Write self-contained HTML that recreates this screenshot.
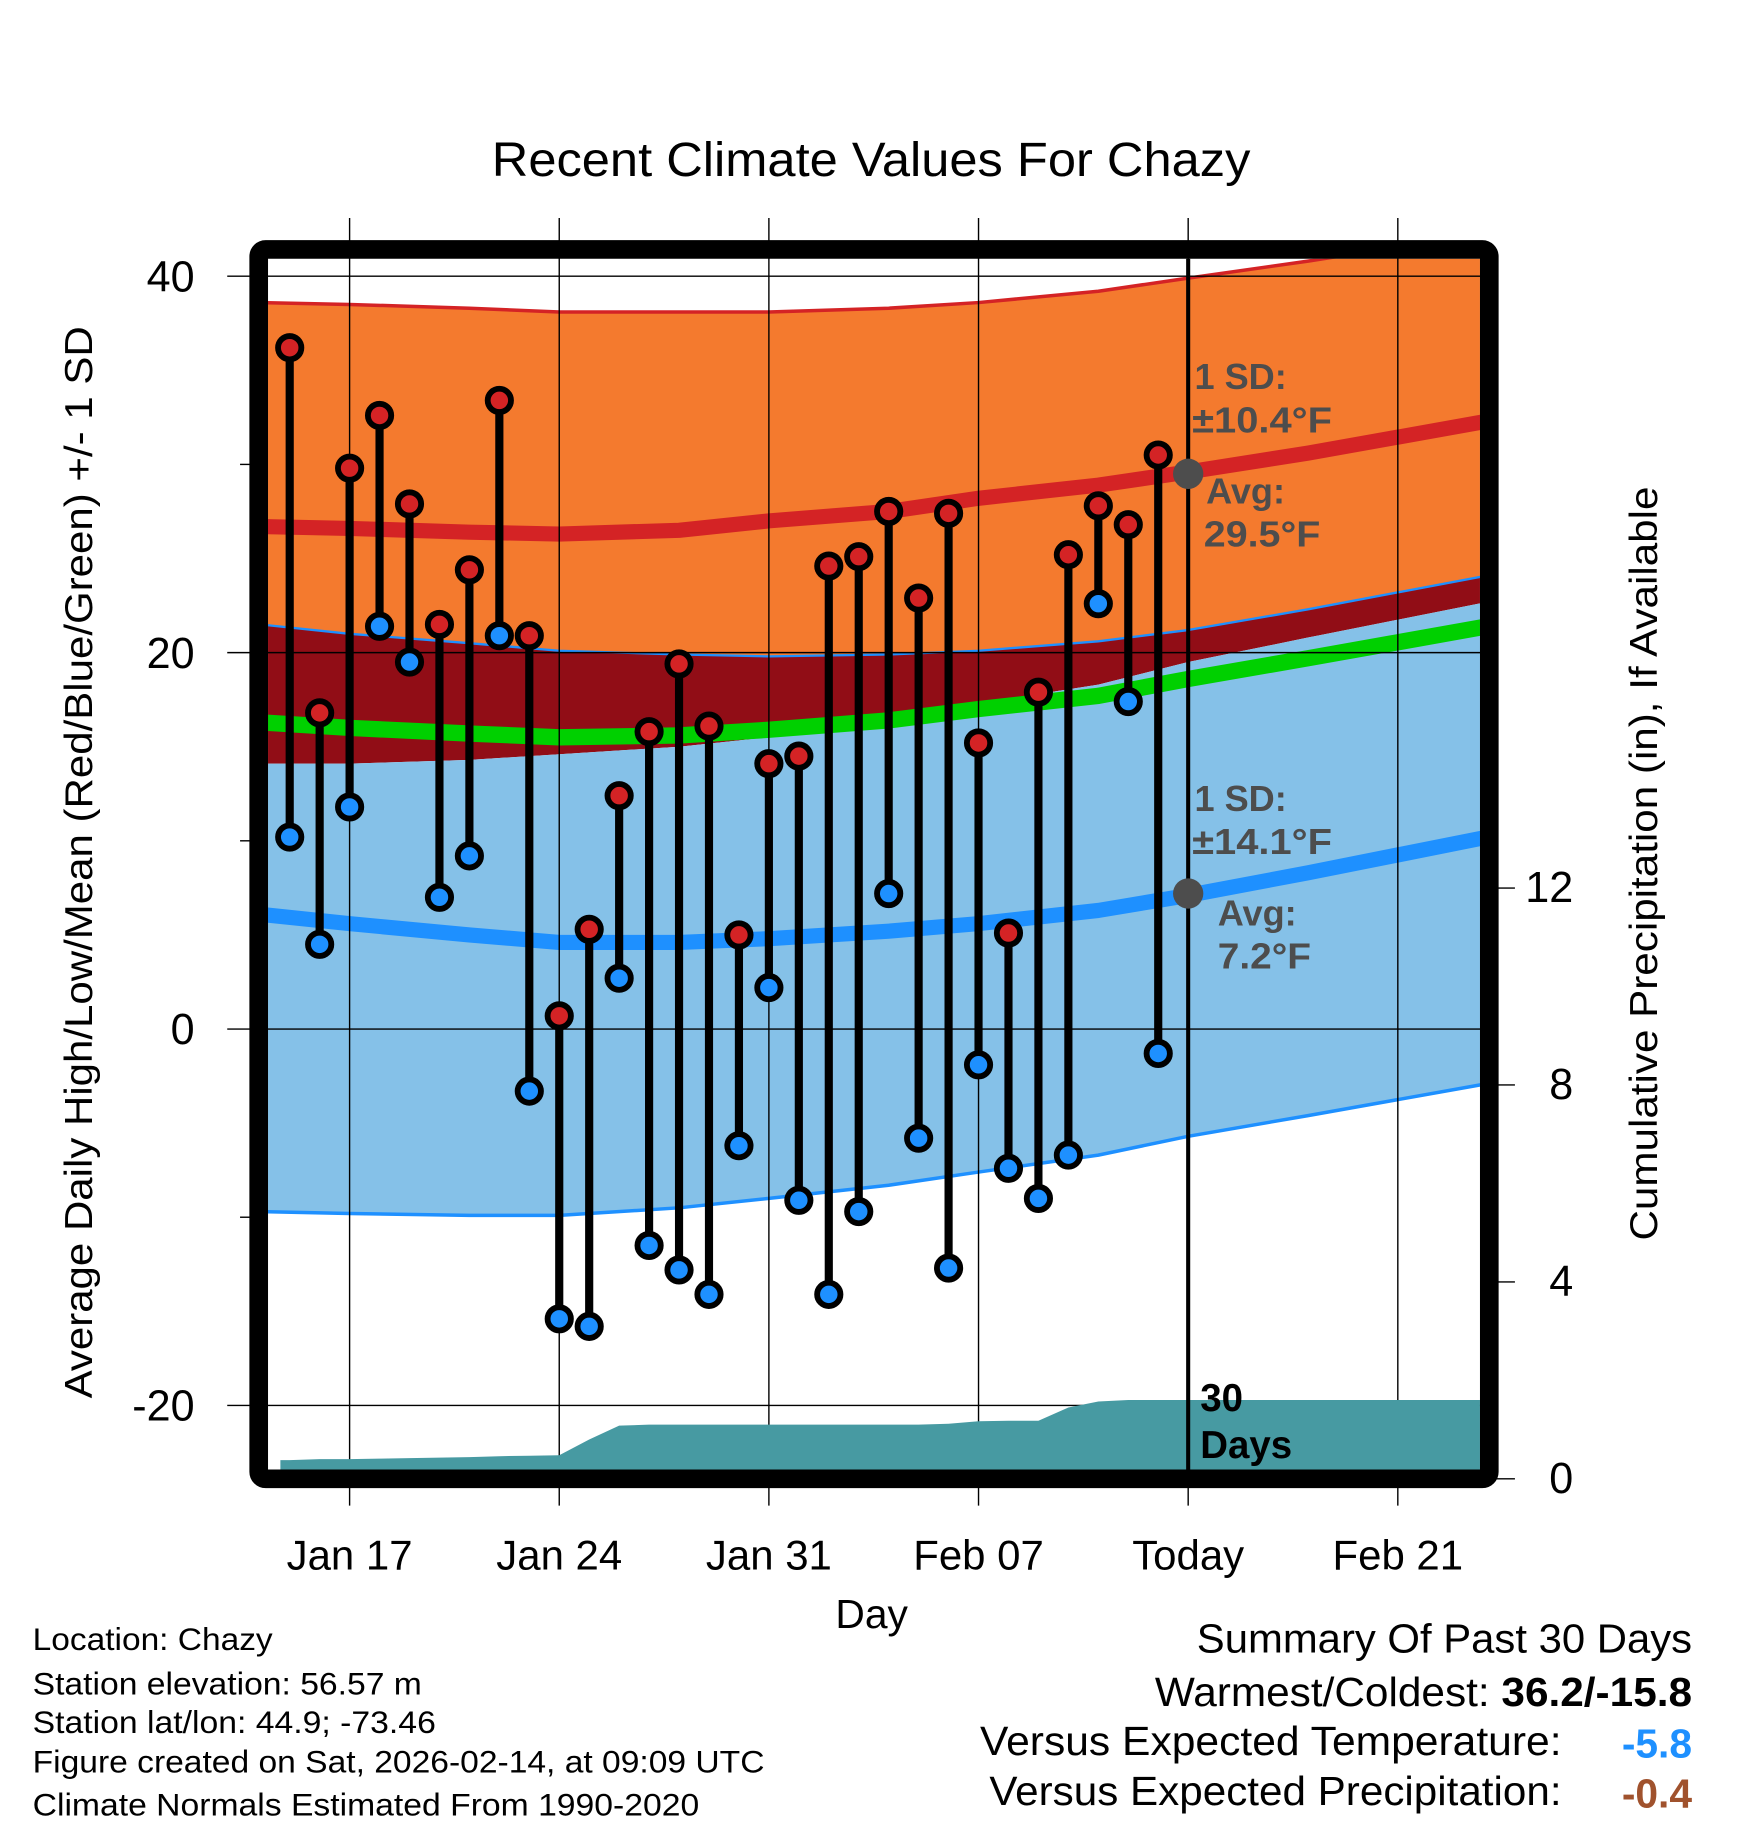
<!DOCTYPE html>
<html><head><meta charset="utf-8"><style>
html,body{margin:0;padding:0;background:#fff;}
svg{display:block;font-family:"Liberation Sans",Arial,sans-serif;}
</style></head><body>
<svg id="chart" width="1748" height="1828" viewBox="0 0 1500 1568.6" xmlns="http://www.w3.org/2000/svg">
<defs><clipPath id="plotclip"><rect x="230" y="222" width="1040" height="1039"/></clipPath></defs>
<g id="bands" clip-path="url(#plotclip)"></g>
<g id="grid"></g>
<g id="precip" clip-path="url(#plotclip)"></g>
<g id="marks"></g>
<g id="axes"></g>
<text x="422" y="151" font-size="41" textLength="651" lengthAdjust="spacingAndGlyphs">Recent Climate Values For Chazy</text>
<text transform="translate(79,740) rotate(-90)" font-size="33" text-anchor="middle" textLength="920" lengthAdjust="spacingAndGlyphs">Average Daily High/Low/Mean (Red/Blue/Green) +/- 1 SD</text>
<text transform="translate(1422,741) rotate(-90)" font-size="33" text-anchor="middle" textLength="647" lengthAdjust="spacingAndGlyphs">Cumulative Precipitation (in), If Available</text>
<text x="748" y="1397" font-size="35" text-anchor="middle">Day</text>
<g font-size="31" font-weight="bold" fill="#4d4d4d">
<text x="1025" y="334">1 SD:</text><text x="1023" y="371" textLength="120" lengthAdjust="spacingAndGlyphs">±10.4°F</text>
<text x="1035" y="432">Avg:</text><text x="1033" y="469" textLength="100" lengthAdjust="spacingAndGlyphs">29.5°F</text>
<text x="1025" y="696">1 SD:</text><text x="1023" y="733" textLength="120" lengthAdjust="spacingAndGlyphs">±14.1°F</text>
<text x="1045" y="794">Avg:</text><text x="1045" y="831" textLength="80" lengthAdjust="spacingAndGlyphs">7.2°F</text>
</g>
<g font-size="33" font-weight="bold" fill="#000">
<text x="1030" y="1211">30</text><text x="1030" y="1251">Days</text>
</g>
<g font-size="27" lengthAdjust="spacingAndGlyphs">
<text x="28" y="1416" textLength="206" lengthAdjust="spacingAndGlyphs">Location: Chazy</text>
<text x="28" y="1454" textLength="334" lengthAdjust="spacingAndGlyphs">Station elevation: 56.57 m</text>
<text x="28" y="1487" textLength="346" lengthAdjust="spacingAndGlyphs">Station lat/lon: 44.9; -73.46</text>
<text x="28" y="1521" textLength="628" lengthAdjust="spacingAndGlyphs">Figure created on Sat, 2026-02-14, at 09:09 UTC</text>
<text x="28" y="1558" textLength="572" lengthAdjust="spacingAndGlyphs">Climate Normals Estimated From 1990-2020</text>
</g>
<g font-size="35">
<text x="1027" y="1418" textLength="425" lengthAdjust="spacingAndGlyphs">Summary Of Past 30 Days</text>
<text x="991" y="1464" textLength="461" lengthAdjust="spacingAndGlyphs">Warmest/Coldest: <tspan font-weight="bold">36.2/-15.8</tspan></text>
<text x="841" y="1506" textLength="499" lengthAdjust="spacingAndGlyphs">Versus Expected Temperature:</text>
<text x="1452" y="1508" font-weight="bold" fill="#1e90ff" text-anchor="end">-5.8</text>
<text x="849" y="1549" textLength="491" lengthAdjust="spacingAndGlyphs">Versus Expected Precipitation:</text>
<text x="1452" y="1551" font-weight="bold" fill="#a0522d" text-anchor="end">-0.4</text>
</g>
</svg>
<script>
// Daily observations (Jan 15 .. Feb 13), day offset relative to Jan 17
const obsDays = [-2,-1,0,1,2,3,4,5,6,7,8,9,10,11,12,13,14,15,16,17,18,19,20,21,22,23,24,25,26,27];
const highs = [36.2,16.8,29.8,32.6,27.9,21.5,24.4,33.4,20.9,0.7,5.3,12.4,15.8,19.4,16.1,5.0,14.1,14.5,24.6,25.1,27.5,22.9,27.4,15.2,5.1,17.9,25.2,27.8,26.8,30.5];
const lows = [10.2,4.5,11.8,21.4,19.5,7.0,9.2,20.9,-3.3,-15.4,-15.8,2.7,-11.5,-12.8,-14.1,-6.2,2.2,-9.1,-14.1,-9.7,7.2,-5.8,-12.7,-1.9,-7.4,-9.0,-6.7,22.6,17.4,-1.3];
const precipCum = [0.38,0.40,0.40,0.41,0.42,0.43,0.44,0.46,0.47,0.48,0.80,1.08,1.10,1.10,1.10,1.10,1.10,1.10,1.10,1.10,1.10,1.10,1.12,1.17,1.18,1.18,1.45,1.57,1.60,1.60];
// Normals, day offsets relative to Jan 17
const normDays = [-3,0,4,7,11,14,18,21,25,28,32,38];
const hiPlus = [38.6,38.5,38.3,38.1,38.1,38.1,38.3,38.6,39.2,39.9,40.8,42.3];
const hiMean = [26.7,26.6,26.4,26.3,26.5,27.0,27.5,28.2,28.9,29.6,30.6,32.3];
const hiMinus = [21.5,21.0,20.5,20.1,19.9,19.8,19.9,20.1,20.6,21.2,22.3,24.1];
const meanT = [16.3,16.0,15.7,15.5,15.6,15.9,16.4,17.0,17.7,18.6,19.7,21.4];
const loPlus = [14.1,14.1,14.3,14.6,15.0,15.5,16.3,17.3,18.3,19.5,20.8,22.7];
const loMean = [6.1,5.6,5.0,4.6,4.6,4.8,5.2,5.6,6.3,7.1,8.3,10.2];
const loMinus = [-9.7,-9.8,-9.9,-9.9,-9.5,-9.0,-8.3,-7.6,-6.7,-5.7,-4.6,-2.9];
const yTicks = [40,20,0,-20];
const yMinor = [30,10,-10];
const pTicks = [0,4,8,12];
const xTickDays = [0,7,14,21,28,35];
const xTickLabels = ["Jan 17","Jan 24","Jan 31","Feb 07","Today","Feb 21"];
const todayDay = 28;

const NS="http://www.w3.org/2000/svg";
const X = d => 300 + d*25.7;
const Y = t => 883 - t*16.15;
const P = p => 1269 - p*42.25;
function mk(tag, attrs, parent){const e=document.createElementNS(NS,tag);for(const k in attrs)e.setAttribute(k,attrs[k]);parent.appendChild(e);return e;}
function ext(arr){ return normDays.map((d,i)=>[X(d),Y(arr[i])]); }
function band(upper, lower, fill, parent, name){
  const u=ext(upper), l=ext(lower).reverse();
  const pts=u.concat(l).map(p=>p.join(',')).join(' ');
  const e=mk('polygon',{points:pts,fill:fill},parent);
  
  
}
function line(arr, color, w, parent, name){
  const e=mk('polyline',{points:ext(arr).map(p=>p.join(',')).join(' '),fill:'none',stroke:color,'stroke-width':w,'stroke-linejoin':'round'},parent);
  
  
}
const bands=document.getElementById('bands');
band(hiMinus, loPlus, '#910d16', bands, 'overlap-band');
band(loPlus, loMinus, '#85c1e8', bands, 'low-sd-band');
band(hiPlus, hiMinus, '#f47a2e', bands, 'high-sd-band');
line(hiPlus,'#d42325',3,bands,'high-plus-sd-line');
line(hiMinus,'#1e90ff',2,bands,'high-minus-sd-line');
line(loMinus,'#1e90ff',3,bands,'low-minus-sd-line');
line(hiMean,'#d42325',13,bands,'mean-high-line');
line(meanT,'#00d000',14,bands,'mean-temp-line');
line(loMean,'#1e90ff',13,bands,'mean-low-line');

const grid=document.getElementById('grid');
xTickDays.forEach(d=>{const e=mk('line',{x1:X(d),x2:X(d),y1:187,y2:1292,stroke:'#000','stroke-width':1.2},grid);

});
yTicks.forEach(t=>{const e=mk('line',{x1:195,x2:1272,y1:Y(t),y2:Y(t),stroke:'#000','stroke-width':1.2},grid);

});

const precip=document.getElementById('precip');
let pp=[[X(obsDays[0])-8,1262],[X(obsDays[0])-8,P(precipCum[0])]];
obsDays.forEach((d,i)=>pp.push([X(d),P(precipCum[i])]));
pp.push([1272,P(precipCum[precipCum.length-1])],[1272,1262]);
const pa=mk('polygon',{points:pp.map(p=>p.join(',')).join(' '),fill:'#479aa2'},precip);



const marks=document.getElementById('marks');
obsDays.forEach((d,i)=>{
  const s=mk('line',{x1:X(d),x2:X(d),y1:Y(highs[i]),y2:Y(lows[i]),stroke:'#000','stroke-width':7},marks);
  
  
});
obsDays.forEach((d,i)=>{
  const h=mk('circle',{cx:X(d),cy:Y(highs[i]),r:10,fill:'#d42325',stroke:'#000','stroke-width':5},marks);
  
  
  const l=mk('circle',{cx:X(d),cy:Y(lows[i]),r:10,fill:'#1e90ff',stroke:'#000','stroke-width':5},marks);
  
  
});
const tl=mk('line',{x1:X(todayDay),x2:X(todayDay),y1:222,y2:1262,stroke:'#000','stroke-width':3.5},marks);


const d1=mk('circle',{cx:X(todayDay),cy:Y(29.5),r:13,fill:'#4d4d4d'},marks);


const d2=mk('circle',{cx:X(todayDay),cy:Y(7.2),r:13,fill:'#4d4d4d'},marks);



const axes=document.getElementById('axes');
const fr=mk('rect',{x:222,y:214,width:1056,height:1055,rx:6,fill:'none',stroke:'#000','stroke-width':16},axes);


yTicks.forEach(t=>{const e=mk('text',{x:167,y:Y(t)+13,'font-size':37,'text-anchor':'end'},axes);e.textContent=t;

});
yMinor.forEach(t=>{const e=mk('line',{x1:206,x2:218,y1:Y(t),y2:Y(t),stroke:'#000','stroke-width':1.2},axes);

});
pTicks.forEach(p=>{const e=mk('line',{x1:1284,x2:1300,y1:P(p),y2:P(p),stroke:'#000','stroke-width':1.2},axes);


const t=mk('text',{x:1350,y:P(p)+12,'font-size':37,'text-anchor':'end'},axes);t.textContent=p;

});
xTickDays.forEach((d,i)=>{const e=mk('text',{x:X(d),y:1347,'font-size':36,'text-anchor':'middle'},axes);e.textContent=xTickLabels[i];

});
</script>
</body></html>
